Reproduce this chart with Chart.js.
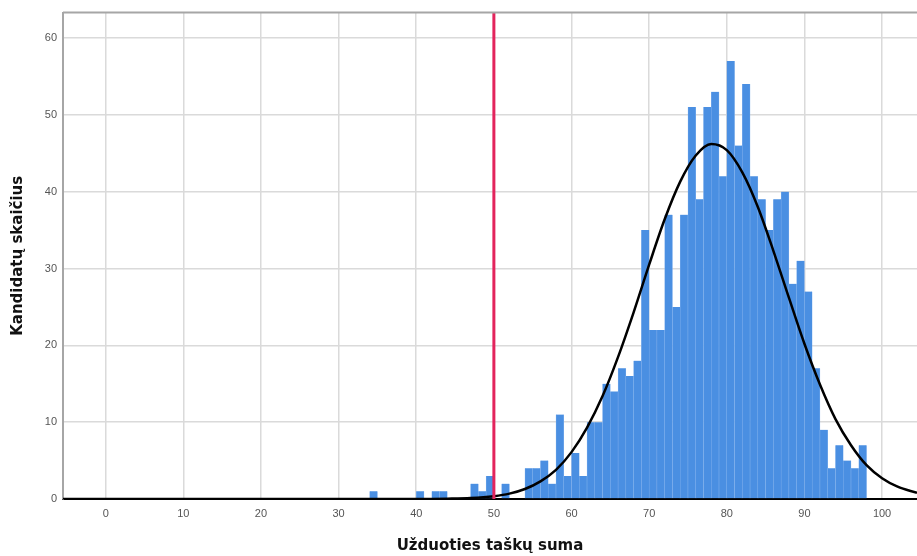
<!DOCTYPE html>
<html>
<head>
<meta charset="utf-8">
<script src="https://cdn.jsdelivr.net/npm/chart.js@4/dist/chart.umd.min.js"></script>
<style>
  html, body { margin: 0; padding: 0; background: #fff; }
  #wrap { width: 917px; height: 556px; }
</style>
</head>
<body>
<div id="wrap"><canvas id="histChart" width="917" height="556"></canvas></div>
<script>
// histogram: one bin per score, first bin is [34, 35)
const firstScore = 34;
const counts = [1, 0, 0, 0, 0, 0, 1, 0, 1, 1, 0, 0, 0, 2, 1, 3, 0, 2, 0, 0,
  4, 4, 5, 2, 11, 3, 6, 3, 10, 10, 15, 14, 17, 16, 18, 35, 22, 22, 37, 25,
  37, 51, 39, 51, 53, 42, 57, 46, 54, 42, 39, 35, 39, 40, 28, 31, 27, 17, 9, 4,
  7, 5, 4, 7];

// normal curve
const curveX = [-5.5, 40, 44, 47, 50, 52, 54, 56, 58, 60, 62, 64, 66, 68, 70, 72, 74,
  76, 78, 80, 82, 84, 86, 88, 90, 92, 94, 96, 98, 100, 102, 104.5];
const curveY = [0, 0, 0.04, 0.12, 0.37, 0.7, 1.3, 2.3, 3.8, 6.1, 9.3, 13.4, 18.5, 24.3, 30.5, 36.4, 41.3,
  44.7, 46.2, 45.4, 42.5, 38.0, 32.3, 26.2, 20.2, 14.9, 10.4, 7.0, 4.4, 2.7, 1.6, 0.8];

const passMark = 50;
const xMin = -5.5, xMax = 104.5;
const yMin = 0, yMax = 63.3;
const xTicks = [0, 10, 20, 30, 40, 50, 60, 70, 80, 90, 100];
const yTicks = [0, 10, 20, 30, 40, 50, 60];

const xTitle = 'Užduoties taškų suma';
const yTitle = 'Kandidatų skaičius';

const barData = counts
  .map((c, i) => ({ x: firstScore + i + 0.5, y: c }))
  .filter(p => p.y > 0);
const curveData = curveX.map((x, i) => ({ x, y: curveY[i] }));

const frame = {
  id: 'frame',
  afterDraw(chart) {
    const { ctx, chartArea } = chart;
    ctx.save();
    ctx.strokeStyle = '#a6a6a6';
    ctx.lineWidth = 2;
    ctx.beginPath();
    ctx.moveTo(chartArea.left, chartArea.top);
    ctx.lineTo(chartArea.right, chartArea.top);
    ctx.stroke();
    ctx.restore();
  }
};

const tickFont = { family: "'Liberation Sans', Arial, sans-serif", size: 11 };
const titleFont = { family: "'DejaVu Sans', sans-serif", size: 15, weight: 'bold' };

new Chart(document.getElementById('histChart'), {
  data: {
    datasets: [
      {
        type: 'line',
        data: [{ x: passMark, y: yMin }, { x: passMark, y: yMax }],
        borderColor: '#e3245c',
        borderWidth: 3,
        pointRadius: 0,
        order: 1
      },
      {
        type: 'line',
        data: curveData,
        borderColor: '#000',
        borderWidth: 2.5,
        pointRadius: 0,
        cubicInterpolationMode: 'monotone',
        order: 2
      },
      {
        type: 'bar',
        data: barData,
        backgroundColor: '#4a8fe2',
        borderColor: '#8ab6ee',
        borderWidth: { left: 0.5, right: 0.5, top: 0, bottom: 0 },
        barPercentage: 1,
        categoryPercentage: 1,
        order: 3
      }
    ]
  },
  options: {
    responsive: false,
    animation: false,
    layout: { padding: { top: 11, right: 0, left: 0, bottom: 0 } },
    plugins: {
      legend: { display: false },
      tooltip: { enabled: false }
    },
    scales: {
      x: {
        type: 'linear',
        min: xMin,
        max: xMax,
        offset: false,
        afterBuildTicks: axis => { axis.ticks = xTicks.map(v => ({ value: v })); },
        afterFit: axis => { axis.height = 57; },
        ticks: { color: '#555', font: tickFont, padding: 8, maxRotation: 0 },
        grid: { color: '#dadada', lineWidth: 1.5, drawTicks: false, offset: false },
        border: { color: '#000', width: 2 },
        title: { display: true, text: xTitle, color: '#111', font: titleFont, padding: { top: 0, bottom: 1 } }
      },
      y: {
        type: 'linear',
        min: yMin,
        max: yMax,
        afterBuildTicks: axis => { axis.ticks = yTicks.map(v => ({ value: v })); },
        afterFit: axis => { axis.width = 63; },
        ticks: { color: '#555', font: tickFont, padding: 6 },
        grid: { color: '#dadada', lineWidth: 1.5, drawTicks: false },
        border: { color: '#a6a6a6', width: 2 },
        title: { display: true, text: yTitle, color: '#111', font: titleFont, padding: { top: 9, bottom: 0 } }
      }
    }
  },
  plugins: [frame]
});
</script>
</body>
</html>
